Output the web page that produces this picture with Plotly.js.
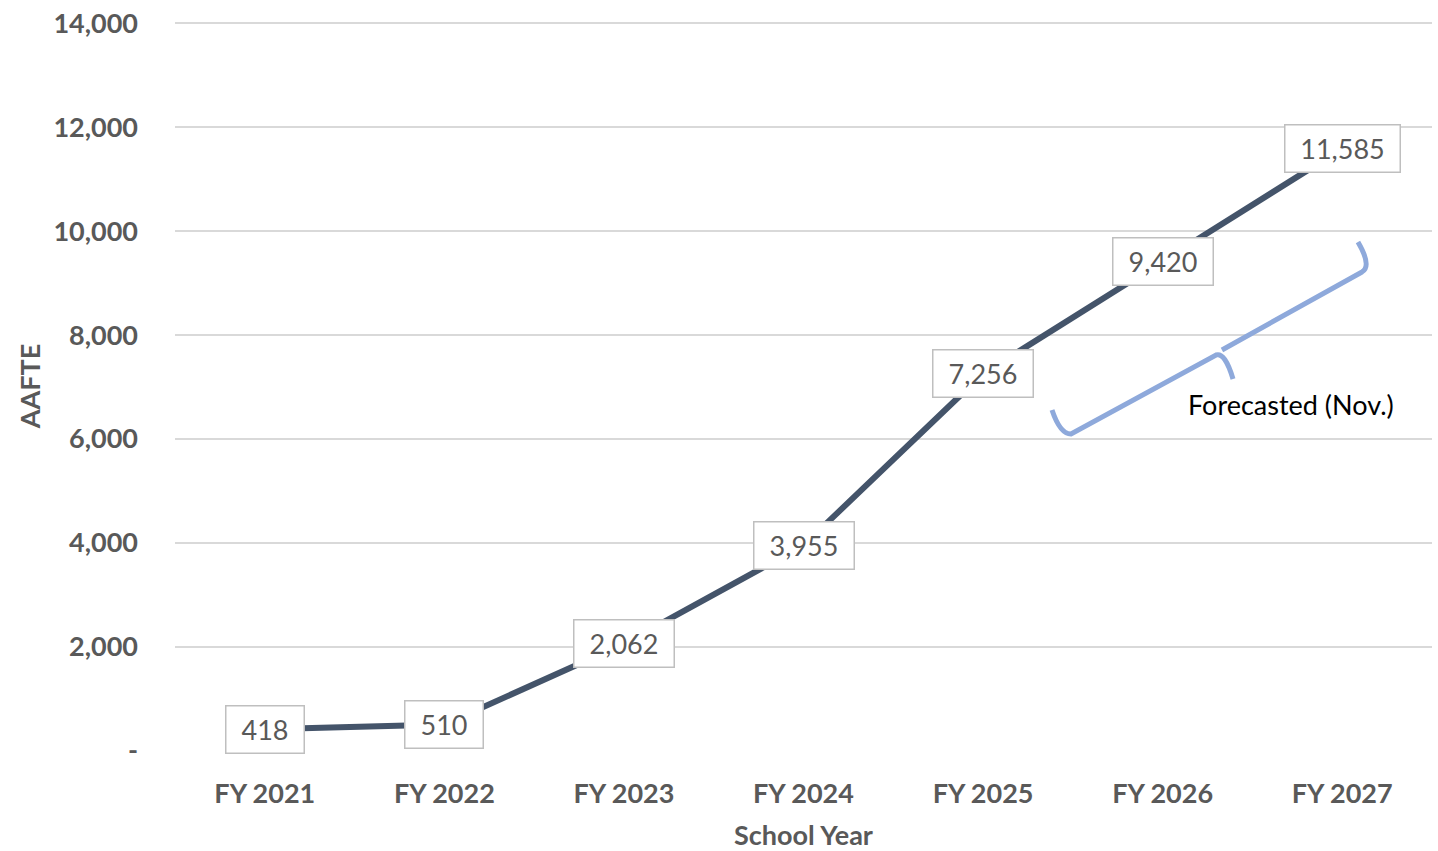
<!DOCTYPE html>
<html><head><meta charset="utf-8">
<script src="https://cdn.plot.ly/plotly-3.0.1.min.js"></script>
<style>html,body{margin:0;padding:0;background:#fff;}#chart{width:1438px;height:851px;}</style>
</head><body><div id="chart"></div>
<script>
const categories = ['FY 2021','FY 2022','FY 2023','FY 2024','FY 2025','FY 2026','FY 2027'];
const aafte = [418, 510, 2062, 3955, 7256, 9420, 11585];
const yTickVals = [0, 2000, 4000, 6000, 8000, 10000, 12000, 14000];
const yTickText = ['-', '2,000', '4,000', '6,000', '8,000', '10,000', '12,000', '14,000'];
const forecastLabel = 'Forecasted (Nov.)';

const W = 1438, H = 851, L = 175, R = 6, T = 21, B = 100;
const pw = W - L - R, ph = H - T - B;
function px(x){ return ((x - L) / pw).toFixed(4); }
function py(y){ return ((H - B - y) / ph).toFixed(4); }
function pt(x, y){ return px(x) + ',' + py(y); }

const bracePath = 'M' + pt(1052,410) + ' Q' + pt(1060,434) + ' ' + pt(1071,434) +
  ' L' + pt(1216,355) + ' Q' + pt(1225,352) + ' ' + pt(1233,379) +
  ' M' + pt(1222,350) + ' L' + pt(1362,272) + ' Q' + pt(1372,266) + ' ' + pt(1358,242);

const fmt = v => v.toLocaleString('en-US');
const font = 'Lato, "Open Sans", sans-serif';
const ctx = document.createElement('canvas').getContext('2d');
ctx.font = '27px Lato';
const textW = s => ctx.measureText(s).width;

const annotations = categories.map((c, i) => ({
  x: c, y: aafte[i], xref: 'x', yref: 'y', text: fmt(aafte[i]), showarrow: false,
  font: {family: font, size: 27, color: '#595959'},
  bgcolor: '#ffffff', bordercolor: '#bfbfbf', borderwidth: 1.5, borderpad: 5,
  width: Math.round(textW(fmt(aafte[i])) + 20), height: 36,
  xanchor: 'center', yanchor: 'middle'
}));
annotations.push({
  x: px(1291), y: py(404), xref: 'paper', yref: 'paper', text: forecastLabel, showarrow: false,
  font: {family: font, size: 27, color: '#000000'}, xanchor: 'center', yanchor: 'middle'
});

const data = [{
  x: categories, y: aafte, type: 'scatter', mode: 'lines',
  line: {color: '#44546A', width: 6}, hoverinfo: 'skip'
}];

const layout = {
  width: W, height: H,
  margin: {l: L, r: R, t: T, b: B},
  paper_bgcolor: '#ffffff', plot_bgcolor: '#ffffff',
  showlegend: false,
  font: {family: font, color: '#595959'},
  xaxis: {
    type: 'category', range: [-0.5, 6.5], showgrid: false, showline: false, zeroline: false,
    ticks: '', ticklabelstandoff: 24,
    tickfont: {family: font, size: 27, color: '#595959', weight: 'bold'},
    title: {text: 'School Year', font: {family: font, size: 27, color: '#595959', weight: 'bold'}, standoff: 24}
  },
  yaxis: {
    range: [0, 14040], tickvals: yTickVals, ticktext: yTickText,
    showgrid: true, gridcolor: '#d9d9d9', gridwidth: 2, zeroline: false, showline: false,
    ticks: '', ticklabelstandoff: 36,
    tickfont: {family: font, size: 27, color: '#595959', weight: 'bold'},
    title: {text: 'AAFTE', font: {family: font, size: 27, color: '#595959', weight: 'bold'}, standoff: 4}
  },
  shapes: [{
    type: 'path', xref: 'paper', yref: 'paper', path: bracePath,
    line: {color: '#8EA9DB', width: 5}
  }],
  annotations: annotations
};

Plotly.newPlot('chart', data, layout, {displayModeBar: false, staticPlot: true});
</script></body></html>
